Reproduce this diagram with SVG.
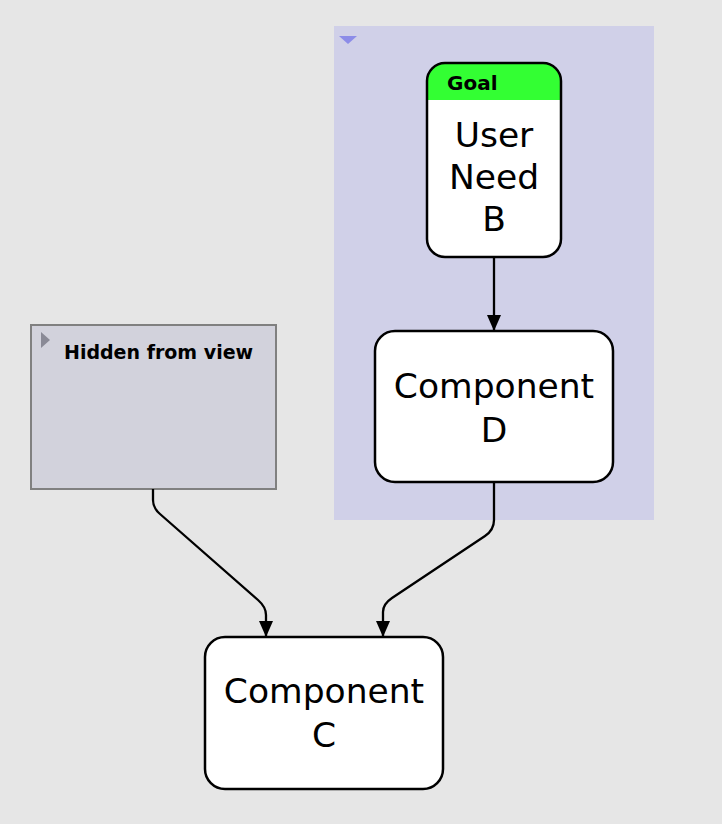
<svg xmlns="http://www.w3.org/2000/svg" width="722" height="824" viewBox="0 0 722 824">
<defs>
<style>
.node{fill:#ffffff;stroke:#000;stroke-width:2.5}
.big{font-family:"DejaVu Sans",sans-serif;font-size:34.5px;fill:#000;text-anchor:middle}
.bold{font-family:"DejaVu Sans",sans-serif;font-weight:bold;fill:#000}
.edge{fill:none;stroke:#000;stroke-width:2.3}
</style>
<marker id="arr" viewBox="0 0 16 14" refX="16" refY="7" markerWidth="16" markerHeight="14" markerUnits="userSpaceOnUse" orient="auto">
<path d="M0,0 L16,7 L0,14 Z" fill="#000"/>
</marker>
<clipPath id="goalclip"><rect x="427" y="63" width="134" height="194" rx="18"/></clipPath>
</defs>
<rect width="722" height="824" fill="#e6e6e6"/>
<g id="group-container">
<rect x="334" y="26" width="320" height="494" fill="#d0d0e8"/>
<path d="M339,36 L357,36 L348,44 Z" fill="#8c8ce8"/>
</g>
<g id="hidden">
<rect x="31" y="325" width="245" height="164" fill="#d2d2dc" stroke="#808080" stroke-width="2"/>
<path d="M41,332 L50,340 L41,348 Z" fill="#8a8a96"/>
<text class="bold" x="64" y="359" font-size="19">Hidden from view</text>
</g>
<g id="connectors">
<path class="edge" d="M494,257 L494,331" marker-end="url(#arr)"/>
<path class="edge" d="M153,489 L153,500 Q153,508 160,514 L258,600 Q266,607 266,615 L266,637" marker-end="url(#arr)"/>
<path class="edge" d="M494,482 L494,520 Q494,530 485,536 L392,598 Q383,604 383,612 L383,637" marker-end="url(#arr)"/>
</g>
<g id="goal">
<rect x="427" y="63" width="134" height="194" rx="18" fill="#fff"/>
<rect x="427" y="63" width="134" height="37" fill="#33ff33" clip-path="url(#goalclip)"/>
<rect class="node" x="427" y="63" width="134" height="194" rx="18" style="fill:none"/>
<text class="bold" x="447" y="90" font-size="20">Goal</text>
<text class="big" x="494" y="147">User</text>
<text class="big" x="494" y="189">Need</text>
<text class="big" x="494" y="231">B</text>
</g>
<g id="component-d">
<rect class="node" x="375" y="331" width="238" height="151" rx="20"/>
<text class="big" x="494" y="398">Component</text>
<text class="big" x="494" y="442">D</text>
</g>
<g id="component-c">
<rect class="node" x="205" y="637" width="238" height="152" rx="20"/>
<text class="big" x="324" y="703">Component</text>
<text class="big" x="324" y="747">C</text>
</g>
</svg>
